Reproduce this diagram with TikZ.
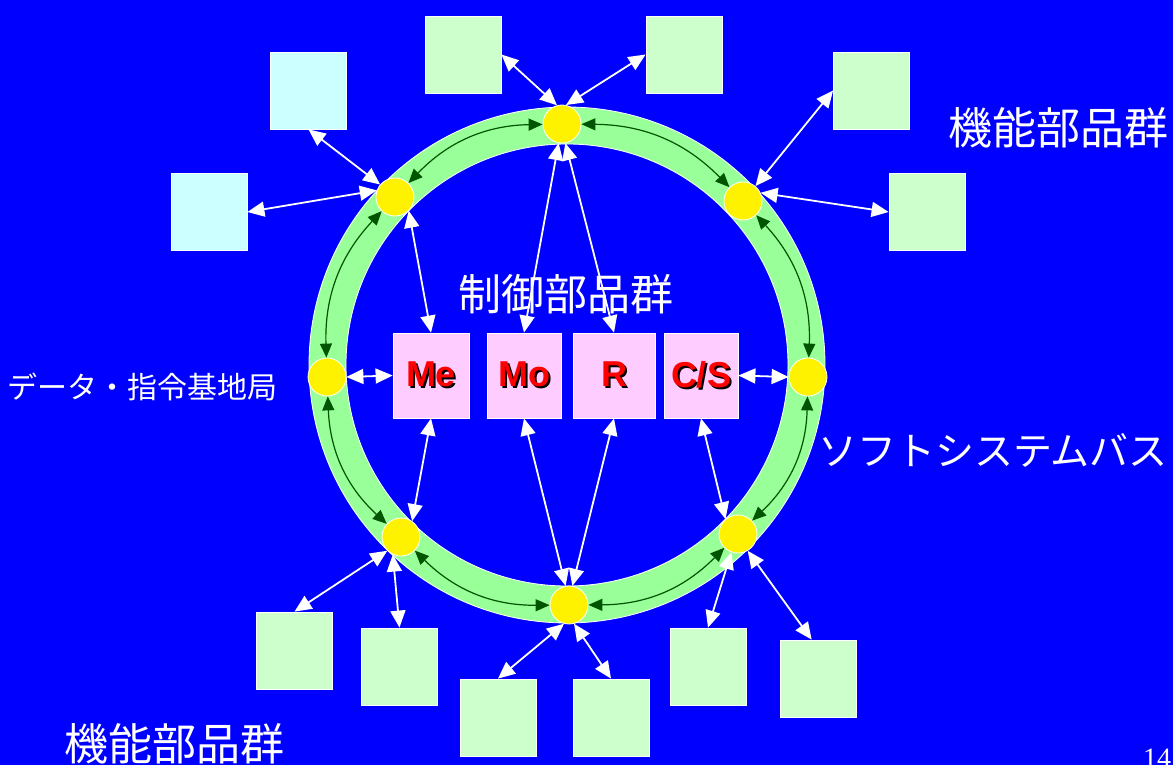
\documentclass[tikz,border=0pt]{standalone}
\usepackage{fontspec}
\setmainfont{Liberation Sans}
\newfontfamily\jp{Noto Sans CJK JP}
\newfontfamily\numfont{Liberation Serif}
\usetikzlibrary{arrows.meta}
\definecolor{bg}{RGB}{0,0,255}
\definecolor{ringgreen}{RGB}{153,255,153}
\definecolor{boxgreen}{RGB}{204,255,204}
\definecolor{boxcyan}{RGB}{204,255,255}
\definecolor{boxpink}{RGB}{255,204,255}
\definecolor{darkgreen}{RGB}{0,85,0}
\newcommand{\shtext}[1]{\leavevmode\rlap{\hspace{2pt}\raisebox{-2pt}{\textcolor{black}{#1}}}\textcolor{red}{#1}}
\begin{document}
\begin{tikzpicture}[x=1pt,y=-1pt,
  fbox/.style={rectangle, draw=white, line width=0.8pt, fill=boxgreen, minimum width=76pt, minimum height=77pt, inner sep=0pt},
  cbox/.style={fbox, fill=boxcyan},
  pbox/.style={rectangle, draw=white, line width=0.8pt, fill=boxpink, minimum height=85pt, inner sep=0pt, font=\fontsize{36}{40}\selectfont\bfseries},
  busnode/.style={circle, fill=yellow, draw=white, line width=0.8pt, minimum size=38pt, inner sep=0pt},
  jptext/.style={text=white, inner sep=0pt},
  warr/.style={white, line width=1.8pt, {Triangle[length=17pt,width=15pt]}-{Triangle[length=17pt,width=15pt]}},
  garr/.style={darkgreen, line width=1.2pt, {Triangle[length=14pt,width=12pt]}-{Triangle[length=14pt,width=12pt]}}
]
\useasboundingbox (0,0) rectangle (1173,765);
\fill[bg] (0,0) rectangle (1173,765);

% ring band
\fill[ringgreen, even odd rule] (567,365) circle[radius=258pt] (567,365) circle[radius=221pt];
\draw[white, line width=0.8pt] (567,365) circle[radius=258pt] (567,365) circle[radius=221pt];

% bus nodes
\node[busnode] (nT)  at (562,124) {};
\node[busnode] (nUR) at (743,201) {};
\node[busnode] (nR)  at (808,377) {};
\node[busnode] (nLR) at (738,534) {};
\node[busnode] (nB)  at (569,605) {};
\node[busnode] (nLL) at (401,537) {};
\node[busnode] (nL)  at (327,377) {};
\node[busnode] (nUL) at (395,197) {};

% ring arrows
\draw[garr] (nT) to[bend left=22.5] (nUR);
\draw[garr] (nUR) to[bend left=22.5] (nR);
\draw[garr] (nR) to[bend left=22.5] (nLR);
\draw[garr] (nLR) to[bend left=22.5] (nB);
\draw[garr] (nB) to[bend left=22.5] (nLL);
\draw[garr] (nLL) to[bend left=22.5] (nL);
\draw[garr] (nL) to[bend left=22.5] (nUL);
\draw[garr] (nUL) to[bend left=22.5] (nT);

% function boxes
\node[fbox] (bA)  at (463,54.5) {};
\node[fbox] (bB)  at (684,54.5) {};
\node[fbox] (bRT) at (871.5,90.5) {};
\node[fbox] (bR)  at (927,212) {};
\node[cbox] (bTL) at (308.5,90.5) {};
\node[cbox] (bL)  at (209,212) {};
\node[fbox] (b1)  at (294.5,650.5) {};
\node[fbox] (b2)  at (399.5,666.5) {};
\node[fbox] (b3)  at (498,717.5) {};
\node[fbox] (b4)  at (611,717.5) {};
\node[fbox] (b5)  at (708,666.5) {};
\node[fbox] (b6)  at (818.5,678.5) {};

% control boxes
\node[pbox, minimum width=76pt] (Me) at (431,375.5) {\shtext{Me}};
\node[pbox, minimum width=74pt] (Mo) at (524,375.5) {\shtext{Mo}};
\node[pbox, minimum width=82pt] (R)  at (614,375.5) {\shtext{R}};
\node[pbox, minimum width=74pt] (CS) at (701,375.5) {\shtext{C/S}};

% white connectors
\draw[warr] (bA.east) -- (nT.105);
\draw[warr] (bB.west) -- (nT.78);
\draw[warr] (bRT.west) -- (nUR.50);
\draw[warr] (bR.west) -- (nUR.25);
\draw[warr] (bTL.south) -- (nUL.140);
\draw[warr] (bL.east) -- (nUL.160);
\draw[warr] (Me.north) -- (nUL.-45);
\draw[warr] (Mo.north) -- (nT.260);
\draw[warr] (R.north) -- (nT.280);
\draw[warr] (Me.west) -- (nL.east);
\draw[warr] (CS.east) -- (nR.west);
\draw[warr] (Me.south) -- (nLL.55);
\draw[warr] (Mo.south) -- (nB.100);
\draw[warr] (R.south) -- (nB.80);
\draw[warr] (CS.south) -- (nLR.130);
\draw[warr] (b1.north) -- (nLL.225);
\draw[warr] (b2.north) -- (nLL.245);
\draw[warr] (b3.north) -- (nB.255);
\draw[warr] (b4.north) -- (nB.285);
\draw[warr] (b5.north) -- (nLR.250);
\draw[warr] (b6.100) -- (nLR.300);

% texts
\node[jptext, font=\jp\fontsize{44}{50}\selectfont] (t1) at (1058,128) {機能部品群};
\node[jptext, font=\jp\fontsize{44}{50}\selectfont] (t2) at (174,744) {機能部品群};
\node[jptext, font=\jp\fontsize{43}{50}\selectfont] (t3) at (566,294) {制御部品群};
\node[jptext, font=\jp\fontsize{39}{45}\selectfont] (t4) at (993,450) {ソフトシステムバス};
\node[jptext, font=\jp\fontsize{30}{36}\selectfont] (t5) at (143,387) {データ・指令基地局};
\node[jptext, font=\numfont\fontsize{28}{32}\selectfont] (t6) at (1157,758) {14};
\end{tikzpicture}
\end{document}
